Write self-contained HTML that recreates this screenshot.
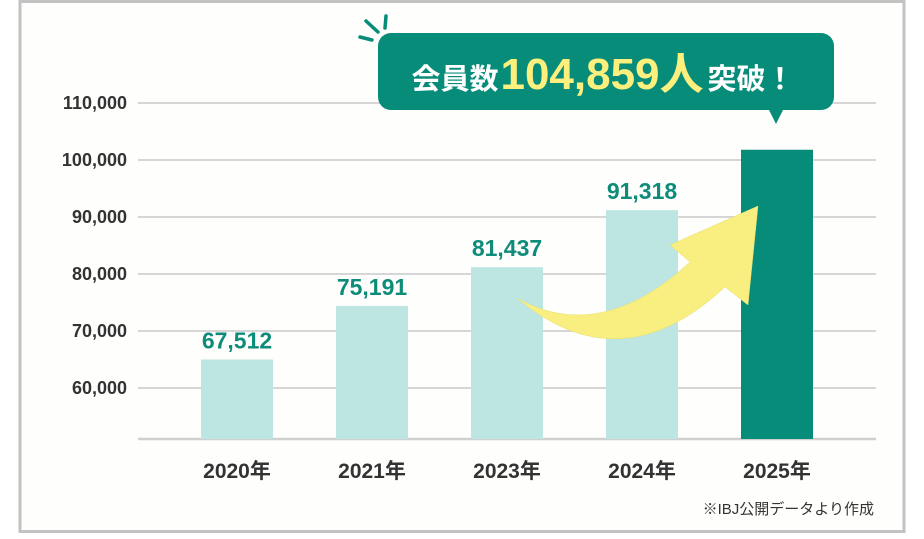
<!DOCTYPE html>
<html><head><meta charset="utf-8">
<style>
html,body{margin:0;padding:0;background:#fff;}
body{width:924px;height:534px;overflow:hidden;font-family:"Liberation Sans","Noto Sans CJK JP",sans-serif;}
</style></head>
<body>
<svg width="924" height="534" viewBox="0 0 924 534" xmlns="http://www.w3.org/2000/svg">
<rect x="20" y="1.5" width="884" height="530" fill="#fefefd" stroke="#c2c2c2" stroke-width="3"/>
<g id="grid"></g>
<g id="bars"></g>
<path d="M517,298 Q600,345 690,262 L670,245 L758,206 L748,305 L725,287 Q620,385 517,298 Z" fill="#f8ef80" stroke="#e8df70" stroke-width="0.5"/>
<g>
<rect x="378" y="33" width="456" height="77" rx="13" fill="#078c7a"/>
<path d="M769,110 L783,110 L776,124 Z" fill="#078c7a"/>
<g stroke="#078c7a" stroke-width="3.5" stroke-linecap="round">
<line x1="366" y1="21" x2="378" y2="32"/><line x1="386" y1="16" x2="385" y2="28"/><line x1="360" y1="37" x2="372" y2="40"/>
</g>
<text x="603" y="89" text-anchor="middle" font-weight="bold"><tspan fill="#fff" font-size="29">会員数</tspan><tspan fill="#fbf07d" font-size="44" dx="2">104,859人</tspan><tspan fill="#fff" font-size="29" dx="4">突破！</tspan></text>
</g>
<text x="874" y="514" text-anchor="end" font-size="15" fill="#333">※IBJ公開データより作成</text>
</svg>
<script>
const categories=["2020年","2021年","2023年","2024年","2025年"];
const barValues=[65000,74400,81200,91200,101800];
const valueLabels=["67,512","75,191","81,437","91,318",""];
const yTicks=[60000,70000,80000,90000,100000,110000];
const yTickLabels=["60,000","70,000","80,000","90,000","100,000","110,000"];
const NS="http://www.w3.org/2000/svg";
function y(v){return 388-(v-60000)*57/10000;}
function x(i){return 237+i*135;}
function mk(t,a,p){const e=document.createElementNS(NS,t);for(const k in a)e.setAttribute(k,a[k]);p.appendChild(e);return e;}
const grid=document.getElementById('grid'),bars=document.getElementById('bars');
yTicks.forEach((v,i)=>{
 const l=mk('line',{x1:138,x2:876,y1:y(v),y2:y(v),stroke:'#d6d6d6','stroke-width':2},grid);
 
 
 const t=mk('text',{x:127,y:y(v)+6,'text-anchor':'end','font-size':18,'font-weight':'bold',fill:'#333'},grid);
 t.textContent=yTickLabels[i];
 
 
});
const base=mk('line',{x1:138,x2:876,y1:439,y2:439,stroke:'#d0d0d0','stroke-width':2.5},grid);


categories.forEach((c,i)=>{
 const last=i===categories.length-1;
 const r=mk('rect',{x:x(i)-36,y:y(barValues[i]),width:72,height:439-y(barValues[i]),fill:last?'#078c7a':'#bde5e2'},bars);
 
 
 if(valueLabels[i]){
  const t=mk('text',{x:x(i),y:y(barValues[i])-11,'text-anchor':'middle','font-size':23,'font-weight':'bold',fill:'#0e8c7a'},bars);
  t.textContent=valueLabels[i];
  
  
 }
 const ct=mk('text',{x:x(i),y:478,'text-anchor':'middle','font-size':21,'font-weight':'bold',fill:'#333'},bars);
 ct.textContent=c;
 
 
});
</script>
</body></html>
